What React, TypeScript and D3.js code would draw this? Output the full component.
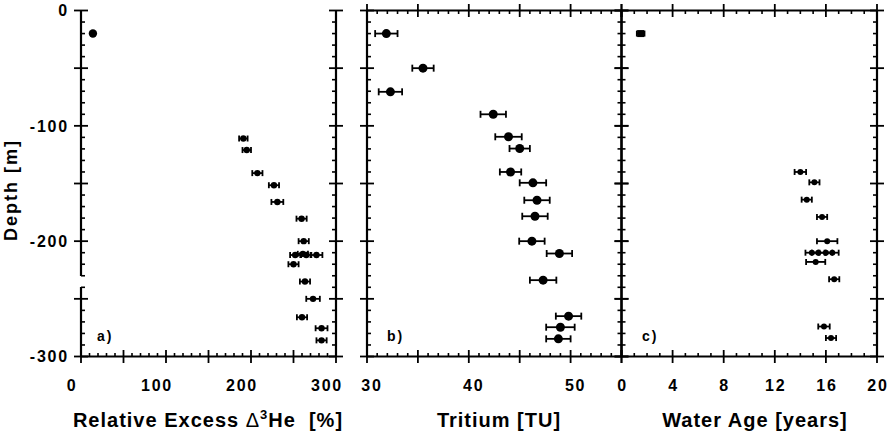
import React from 'react';
import * as d3 from 'd3';

// ---------- data ----------
const depthTicks = [0, -100, -200, -300];

const heDepth = [-20, -111, -121, -141, -151.5, -166, -180.5, -200, -212, -211, -212, -212, -220, -235, -250, -266, -275.5, -286];
const heValue = [14, 191, 195, 207.5, 227, 231, 259.5, 262, 252, 261, 265, 277, 250, 263.5, 273, 260, 283, 283];
const heError = [0, 5, 5, 6, 6, 7, 6, 6, 6, 6, 6, 7, 6, 6, 8, 6, 7, 6];
const heTicks = [0, 100, 200, 300];

const tritiumDepth = [-20, -50, -70.5, -90, -109.5, -119.7, -140, -149.4, -164.5, -178.4, -200, -210.7, -233.8, -265, -274.6, -284.7];
const tritiumValue = [31.9, 35.5, 32.3, 42.4, 43.9, 45.0, 44.1, 46.3, 46.7, 46.5, 46.2, 48.9, 47.3, 49.8, 49.0, 48.8];
const tritiumError = [1.1, 1.05, 1.15, 1.25, 1.3, 1.0, 1.05, 1.3, 1.25, 1.25, 1.25, 1.25, 1.3, 1.25, 1.4, 1.2];
const tritiumTicks = [30, 40, 50];

const ageDepth = [-20, -140, -149, -164, -179, -200, -210, -210, -210, -210, -218, -233, -274, -284];
const ageValue = [1.5, 14.0, 15.1, 14.5, 15.7, 16.1, 14.9, 15.4, 16.0, 16.5, 15.2, 16.65, 15.85, 16.4];
const ageError = [0.3, 0.45, 0.4, 0.4, 0.4, 0.8, 0.5, 0.5, 0.5, 0.5, 0.75, 0.4, 0.45, 0.4];
const ageTicks = [0, 4, 8, 12, 16, 20];

// ---------- layout ----------
const W = 895;
const H = 441;
const FONT = "'Liberation Sans', Arial, Helvetica, sans-serif";
const TOP = 10.5;
const BOTTOM = 356.5;

const yScale = d3.scaleLinear().domain([0, -300]).range([TOP, BOTTOM]);
const xHe = d3.scaleLinear().domain([0, 300]).range([81, 336]);
const xTri = d3.scaleLinear().domain([30, 55]).range([367, 621.5]);
const xAge = d3.scaleLinear().domain([0, 20]).range([621.5, 877]);

const yMajor = d3.range(0, -301, -50);
const yMinor = d3.range(0, -301, -10).filter((d) => d % 50 !== 0);

function VAxis({ x, side, gap }: { x: number; side: 'left' | 'right'; gap?: [number, number] }) {
  const dir = side === 'left' ? 1 : -1;
  const segs: [number, number][] = gap ? [[TOP, gap[0]], [gap[1], BOTTOM]] : [[TOP, BOTTOM]];
  return (
    <g stroke="#000" strokeLinecap="butt">
      {segs.map((s, i) => (
        <line key={'s' + i} x1={x} x2={x} y1={s[0]} y2={s[1]} strokeWidth={2.2} />
      ))}
      {yMajor.map((d) => (
        <line key={'M' + d} x1={x - 7} x2={x + 7} y1={yScale(d)} y2={yScale(d)} strokeWidth={1.8} />
      ))}
      {yMinor.map((d) => (
        <line key={'m' + d} x1={x} x2={x + dir * 4} y1={yScale(d)} y2={yScale(d)} strokeWidth={1.6} />
      ))}
    </g>
  );
}

function HAxis({ scale, y, major, minor, inward }: { scale: d3.ScaleLinear<number, number>; y: number; major: number; minor: number; inward: 1 | -1 }) {
  const [d0, d1] = scale.domain();
  const majors = d3.range(d0, d1 + 1e-9, major);
  const minors = d3.range(d0, d1 + 1e-9, minor).filter((d) => Math.abs(d / major - Math.round(d / major)) > 1e-6);
  const [r0, r1] = scale.range();
  return (
    <g stroke="#000">
      <line x1={r0} x2={r1} y1={y} y2={y} strokeWidth={2.2} />
      {majors.map((d) => (
        <line key={'M' + d} x1={scale(d)} x2={scale(d)} y1={y - 6.5} y2={y + 6.5} strokeWidth={1.8} />
      ))}
      {minors.map((d) => (
        <line key={'m' + d} x1={scale(d)} x2={scale(d)} y1={y} y2={y + inward * 3.5} strokeWidth={1.6} />
      ))}
    </g>
  );
}

function ErrPoints({ scale, values, depths, errors, r, cap, square }: { scale: d3.ScaleLinear<number, number>; values: number[]; depths: number[]; errors: number[]; r: number; cap: number; square?: number }) {
  return (
    <g>
      {values.map((v, i) => {
        const cx = scale(v);
        const cy = yScale(depths[i]);
        const e = errors[i];
        const x0 = scale(v - e);
        const x1 = scale(v + e);
        const isSquare = square === i;
        return (
          <g key={i}>
            {e > 0 && (
              <g stroke="#000" strokeWidth={1.8}>
                <line x1={x0} x2={x1} y1={cy} y2={cy} />
                <line x1={x0} x2={x0} y1={cy - cap} y2={cy + cap} />
                <line x1={x1} x2={x1} y1={cy - cap} y2={cy + cap} />
              </g>
            )}
            {isSquare ? (
              <rect x={cx - 3.5} y={cy - 3.5} width={7} height={7} fill="#000" />
            ) : (
              <circle cx={cx} cy={cy} r={e > 0 ? r : r + 1} fill="#000" />
            )}
          </g>
        );
      })}
    </g>
  );
}

const tickText = { fontFamily: FONT, fontWeight: 700, fontSize: 16, letterSpacing: 1.8 } as const;
const titleText = { fontFamily: FONT, fontWeight: 700, fontSize: 20, letterSpacing: 1 } as const;

export default function App() {
  const labelY = 390.7;
  return (
    <svg width={W} height={H} style={{ position: 'absolute', left: 0, top: 0, background: '#fff' }}>
      <rect width={W} height={H} fill="#fff" />

      {/* Panel a */}
      <VAxis x={xHe(0)} side="left" gap={[276, 287]} />
      <VAxis x={xHe(300)} side="right" />
      <HAxis scale={xHe} y={BOTTOM} major={50} minor={10} inward={-1} />
      <ErrPoints scale={xHe} values={heValue} depths={heDepth} errors={heError} r={3.2} cap={3} />

      {/* Panel b */}
      <VAxis x={xTri(30)} side="left" />
      <VAxis x={xTri(55)} side="right" />
      <HAxis scale={xTri} y={BOTTOM} major={5} minor={1} inward={-1} />
      <HAxis scale={xTri} y={TOP} major={5} minor={1} inward={1} />
      <ErrPoints scale={xTri} values={tritiumValue} depths={tritiumDepth} errors={tritiumError} r={4.5} cap={3.5} />

      {/* Panel c */}
      <VAxis x={xAge(0)} side="left" />
      <VAxis x={xAge(20)} side="right" />
      <HAxis scale={xAge} y={BOTTOM} major={4} minor={1} inward={-1} />
      <HAxis scale={xAge} y={TOP} major={4} minor={1} inward={1} />
      <ErrPoints scale={xAge} values={ageValue} depths={ageDepth} errors={ageError} r={3} cap={3} square={0} />

      {/* y tick labels */}
      {depthTicks.map((d) => (
        <text key={d} x={69} y={yScale(d)} dy="0.36em" textAnchor="end" style={tickText}>
          {d}
        </text>
      ))}

      {/* x tick labels */}
      {heTicks.map((d) => (
        <text key={'he' + d} x={xHe(d) - 9} y={labelY} textAnchor="middle" style={tickText}>
          {d}
        </text>
      ))}
      {tritiumTicks.map((d) => (
        <text key={'tr' + d} x={xTri(d) + 5} y={labelY} textAnchor="middle" style={tickText}>
          {d}
        </text>
      ))}
      {ageTicks.map((d) => (
        <text key={'ag' + d} x={xAge(d) + 1} y={labelY} textAnchor="middle" style={tickText}>
          {d}
        </text>
      ))}

      {/* panel letters */}
      <text x={97} y={341} style={{ fontFamily: FONT, fontWeight: 700, fontSize: 14, letterSpacing: 2 }}>a)</text>
      <text x={387} y={341} style={{ fontFamily: FONT, fontWeight: 700, fontSize: 14, letterSpacing: 2 }}>b)</text>
      <text x={642} y={341} style={{ fontFamily: FONT, fontWeight: 700, fontSize: 14, letterSpacing: 2 }}>c)</text>

      {/* axis titles */}
      <text transform="translate(17,190) rotate(-90)" textAnchor="middle" style={{ fontFamily: FONT, fontWeight: 700, fontSize: 18, letterSpacing: 2 }}>
        Depth [m]
      </text>
      <text x={208} y={426.5} textAnchor="middle" style={titleText} xmlSpace="preserve">
        Relative Excess <tspan fontWeight={400}>Δ</tspan><tspan fontSize={13} dy={-8}>3</tspan><tspan dy={8}>He  [%]</tspan>
      </text>
      <text x={499} y={426.5} textAnchor="middle" style={titleText}>
        Tritium [TU]
      </text>
      <text x={755} y={426.5} textAnchor="middle" style={titleText}>
        Water Age [years]
      </text>
    </svg>
  );
}
